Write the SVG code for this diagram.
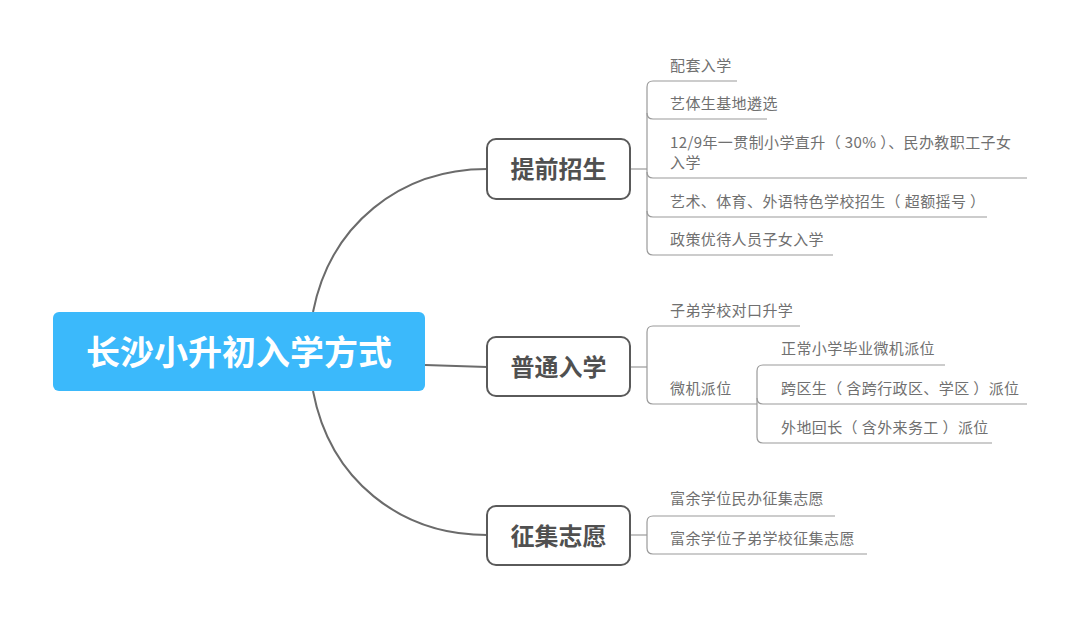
<svg xmlns="http://www.w3.org/2000/svg" width="1080" height="618" viewBox="0 0 1080 618">
<style>
.root{fill:#3bb9fb}
.rt{font-family:"Noto Sans CJK SC",sans-serif;font-weight:bold;font-size:34px;fill:#fff}
.box{fill:#fff;stroke:#5a5a5a;stroke-width:2}
.bt{font-family:"Noto Sans CJK SC",sans-serif;font-weight:bold;font-size:24px;fill:#505050}
.lt{font-family:"Noto Sans CJK SC",sans-serif;font-size:15px;letter-spacing:0.4px;fill:#707070}
.main{fill:none;stroke:#6b6b6b;stroke-width:2}
.leaf{fill:none;stroke:#9a9a9a;stroke-width:1.2}
</style>
<rect width="1080" height="618" fill="#fff"/>
<g id="connectors">
<path class="main" d="M313,312 C330,225 400,169 487,169"/>
<path class="main" d="M425,365 Q456,366 487,367"/>
<path class="main" d="M313,391 C330,480 400,535 487,535"/>
<path class="leaf" d="M630,169 H647"/>
<path class="leaf" d="M737,81 H653 Q647,81 647,87 V249 Q647,255 653,255 H833"/>
<path class="leaf" d="M647,113 Q647,119 653,119 H767"/>
<path class="leaf" d="M647,172 Q647,178 653,178 H1027"/>
<path class="leaf" d="M647,211 Q647,217 653,217 H987"/>
<path class="leaf" d="M630,367 H647"/>
<path class="leaf" d="M800,326 H653 Q647,326 647,332 V398 Q647,404 653,404 H757"/>
<path class="leaf" d="M945,365 H763 Q757,365 757,371 V437 Q757,443 763,443 H992"/>
<path class="leaf" d="M757,398 Q757,404 763,404 H1027"/>
<path class="leaf" d="M630,535 H647"/>
<path class="leaf" d="M835,516 H653 Q647,516 647,522 V548 Q647,554 653,554 H867"/>
</g>
<g id="root">
<rect class="root" x="53" y="312" width="372" height="79" rx="6"/>
<text class="rt" x="239" y="365" text-anchor="middle">长沙小升初入学方式</text>
</g>
<g id="n1">
<rect class="box" x="487" y="139" width="143" height="60" rx="9"/>
<text class="bt" x="558.5" y="177.5" text-anchor="middle">提前招生</text>
</g>
<g id="n2">
<rect class="box" x="487" y="337" width="143" height="59" rx="9"/>
<text class="bt" x="558.5" y="375.5" text-anchor="middle">普通入学</text>
</g>
<g id="n3">
<rect class="box" x="487" y="506" width="143" height="59" rx="9"/>
<text class="bt" x="558.5" y="544.5" text-anchor="middle">征集志愿</text>
</g>
<g id="l1"><text class="lt" x="670" y="71">配套入学</text></g>
<g id="l2"><text class="lt" x="670" y="109">艺体生基地遴选</text></g>
<g id="l3"><text class="lt" x="670" y="148">12/9年一贯制小学直升（ 30% ）、民办教职工子女</text><text class="lt" x="670" y="168">入学</text></g>
<g id="l4"><text class="lt" x="670" y="207">艺术、体育、外语特色学校招生（ 超额摇号 ）</text></g>
<g id="l5"><text class="lt" x="670" y="245">政策优待人员子女入学</text></g>
<g id="l6"><text class="lt" x="670" y="316">子弟学校对口升学</text></g>
<g id="l7"><text class="lt" x="670" y="394">微机派位</text></g>
<g id="l8"><text class="lt" x="781" y="354">正常小学毕业微机派位</text></g>
<g id="l9"><text class="lt" x="781" y="394">跨区生（ 含跨行政区、学区 ）派位</text></g>
<g id="l10"><text class="lt" x="781" y="433">外地回长（ 含外来务工 ）派位</text></g>
<g id="l11"><text class="lt" x="670" y="504">富余学位民办征集志愿</text></g>
<g id="l12"><text class="lt" x="670" y="544">富余学位子弟学校征集志愿</text></g>
</svg>
